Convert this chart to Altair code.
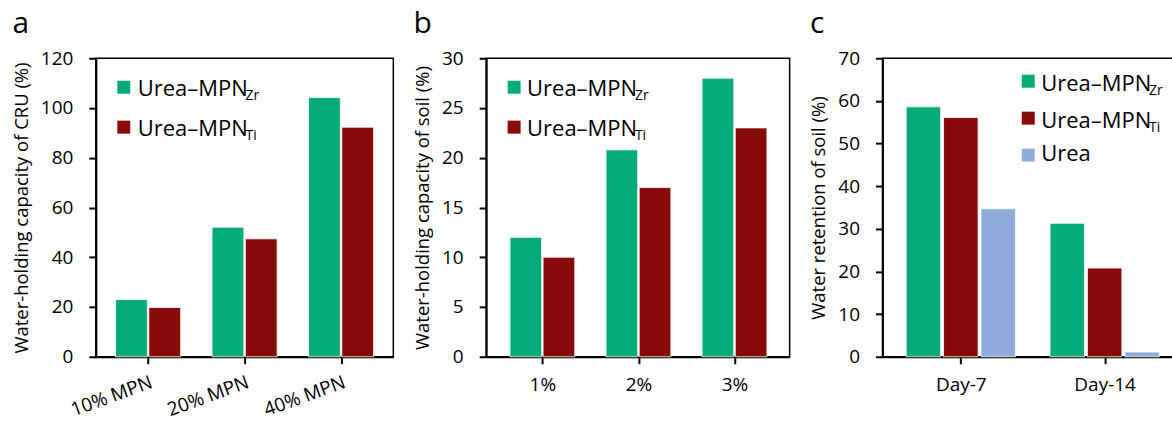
import json
import altair as alt
import pandas as pd

FONT = "Open Sans"

# ---- data ----
series_names = ["Urea–MPN Zr", "Urea–MPN Ti", "Urea"]
legend_main = ["Urea–MPN", "Urea–MPN", "Urea"]
legend_sub = ["Zr", "Ti", ""]
colors = ["#05AC79", "#8A0909", "#8FABDC"]

cats_a = ["10% MPN", "20% MPN", "40% MPN"]
zr_a = [23.0, 52.1, 104.2]
ti_a = [19.8, 47.4, 92.3]

cats_b = ["1%", "2%", "3%"]
zr_b = [12.0, 20.8, 28.0]
ti_b = [10.0, 17.0, 23.0]

cats_c = ["Day-7", "Day-14"]
zr_c = [58.6, 31.3]
ti_c = [56.1, 20.8]
urea_c = [34.7, 1.1]

H = 299


def panel(letter, cats, vals, ymax, ystep, ytitle, width, xdom, pitch, hw,
          leg, label_angle=0):
    n = len(vals)
    names = series_names[:n]
    rows = []
    for si, (name, v) in enumerate(zip(names, vals)):
        for gi, (c, val) in enumerate(zip(cats, v)):
            rows.append({"gi": gi, "si": si, "cat": c, "series": name,
                         "value": val})
    df = pd.DataFrame(rows)

    label_expr = json.dumps(cats) + "[datum.value]"
    if label_angle:
        xaxis = alt.Axis(title=None, values=list(range(len(cats))),
                         labelExpr=label_expr, labelAngle=label_angle,
                         labelAlign="right", labelBaseline="top",
                         labelPadding=9, grid=False)
    else:
        xaxis = alt.Axis(title=None, values=list(range(len(cats))),
                         labelExpr=label_expr, labelAngle=0,
                         labelPadding=12, grid=False)

    mid = (n - 1) / 2
    bars = alt.Chart(df).transform_calculate(
        xl=f"datum.gi + (datum.si - {mid}) * {pitch} - {hw}",
        xr=f"datum.gi + (datum.si - {mid}) * {pitch} + {hw}",
    ).mark_bar(stroke="white", strokeWidth=0.8, orient="vertical").encode(
        x=alt.X("xl:Q", scale=alt.Scale(domain=xdom, nice=False, zero=False),
                axis=xaxis),
        x2="xr:Q",
        y=alt.Y("value:Q", scale=alt.Scale(domain=[0, ymax], nice=False),
                axis=alt.Axis(values=list(range(0, ymax + 1, ystep)),
                              title=ytitle)),
        y2=alt.datum(0),
        color=alt.Color("series:N",
                        scale=alt.Scale(domain=series_names, range=colors),
                        legend=None),
    )

    layers = [bars]
    sx, tx, subdx, ys = leg
    for i in range(n):
        sq_y, base_y = ys[i]
        one = pd.DataFrame({"t": [legend_main[i]], "s": [legend_sub[i]]})
        layers.append(alt.Chart(one).mark_square(size=169, opacity=1).encode(
            x=alt.value(sx), y=alt.value(sq_y), color=alt.value(colors[i])))
        layers.append(alt.Chart(one).mark_text(
            align="left", baseline="alphabetic", font=FONT, fontSize=22,
            color="black").encode(
            x=alt.value(tx), y=alt.value(base_y), text="t:N"))
        if legend_sub[i]:
            layers.append(alt.Chart(one).mark_text(
                align="left", baseline="alphabetic", font=FONT, fontSize=14,
                color="black").encode(
                x=alt.value(tx + subdx), y=alt.value(base_y + 4), text="s:N"))

    return alt.layer(*layers).properties(
        width=width, height=H,
        title=alt.TitleParams(letter, anchor="start", frame="bounds",
                              fontSize=30, font=FONT, fontWeight="normal",
                              color="black", offset=10),
    )


pa = panel("a", cats_a, [zr_a, ti_a], 120, 20,
           "Water-holding capacity of CRU (%)", 298, [-0.49, 2.49], 0.345, 0.165,
           (28, 42, 108, [(29, 38), (69, 78)]), label_angle=-20)
pb = panel("b", cats_b, [zr_b, ti_b], 30, 5,
           "Water-holding capacity of soil (%)", 304, [-0.533, 2.522], 0.345,
           0.165, (28, 41, 108, [(29, 38), (69, 78)]))
pc = panel("c", cats_c, [zr_c, ti_c, urea_c], 70, 10,
           "Water retention of soil (%)", 301, [-0.51, 1.51], 0.26, 0.12,
           (146, 159, 108, [(23, 33), (60, 70), (97, 103)]))

# the reference figure is cropped at its right edge: a negative right padding
# trims the last few pixels of panel c (its right border) off the picture
chart = alt.hconcat(pa, pb, pc, spacing=18).properties(
    padding={"left": 11, "top": 8, "right": -12, "bottom": 0}
).configure_view(
    stroke="black", strokeWidth=1.5
).configure_axis(
    domainColor="black", domainWidth=2, tickColor="black", tickWidth=2,
    tickSize=7, grid=False, labelFont=FONT, labelFontSize=19,
    labelColor="black", titleFont=FONT, titleFontSize=18.5,
    titleFontWeight="normal", titleColor="black"
).configure_axisY(
    labelPadding=16, titlePadding=9
)

chart.save("out.html", embed_options={"renderer": "svg", "actions": False})
